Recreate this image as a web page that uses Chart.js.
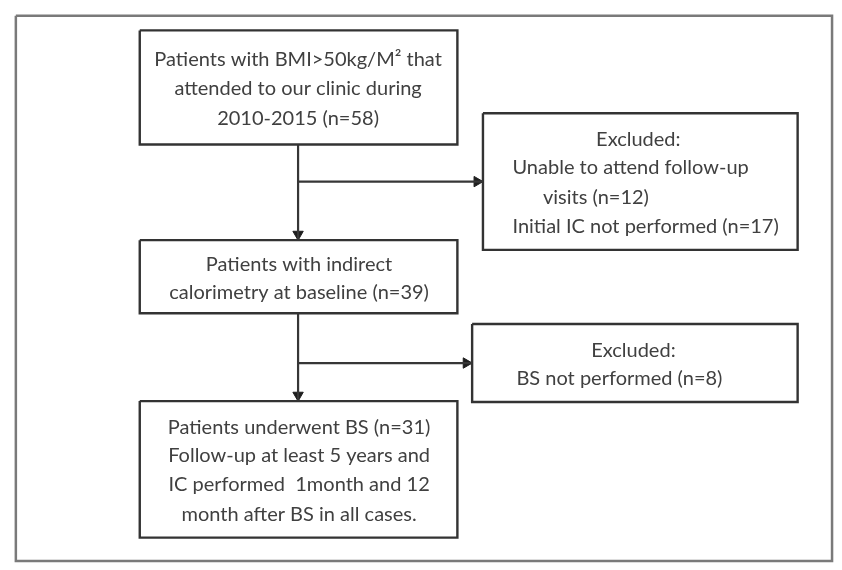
<!DOCTYPE html>
<html>
<head>
<meta charset="utf-8">
<script src="https://cdn.jsdelivr.net/npm/chart.js@4.4.0/dist/chart.umd.min.js"></script>
<style>
  html, body { margin: 0; padding: 0; background: #ffffff; }
  #wrap { width: 842px; height: 570px; }
</style>
</head>
<body>
<div id="wrap"><canvas id="c" width="842" height="570"></canvas></div>
<script>
// ---- Flowchart content (data) ----
const boxNames = ["Screened", "Excluded1", "Baseline", "Excluded2", "Underwent BS"];
const boxCounts = [58, 29, 39, 8, 31];
const boxLines = [
  ["Patients with BMI>50kg/M\u00B2 that", "attended to our clinic during", "2010-2015 (n=58)"],
  ["Excluded:", "Unable to attend follow-up", "visits (n=12)", "Initial IC not performed (n=17)"],
  ["Patients with indirect", "calorimetry at baseline (n=39)"],
  ["Excluded:", "BS not performed (n=8)"],
  ["Patients underwent BS (n=31)", "Follow-up at least 5 years and", "IC performed  1month and 12", "month after BS in all cases."]
];

// ---- Layout in diagram units (x: 0..842, y: 0..570 from top) ----
const boxLeft   = [135, 484, 135, 473, 135];
const boxRight  = [458, 804, 458, 804, 458];
const boxTop    = [24, 109, 239, 325, 404];
const boxBottom = [141, 249, 314, 405, 544];
const lineY = [
  [54, 84, 114],
  [136, 165, 195, 225],
  [264, 293],
  [352, 381],
  [431, 460, 490, 520]
];
const lineX = [
  [296, 296, 296],
  [642, 514, 545, 514],
  [297, 297],
  [637, 518],
  [297, 297, 297, 297]
];
const lineAlign = [
  ["center", "center", "center"],
  ["center", "left", "left", "left"],
  ["center", "center"],
  ["center", "left"],
  ["center", "center", "center", "center"]
];
// connectors: [x1, y1, x2, y2, direction]
const connectors = [
  [296, 141, 296, 239, "down"],
  [296, 179, 484, 179, "right"],
  [296, 314, 296, 404, "down"],
  [296, 365, 473, 365, "right"]
];
const frame = [9, 9, 839, 568];

// ---- Build datasets ----
const ARROW_R = 6;
const datasets = [];
datasets.push({
  data: [
    {x: frame[0], y: frame[1]}, {x: frame[2], y: frame[1]},
    {x: frame[2], y: frame[3]}, {x: frame[0], y: frame[3]}, {x: frame[0], y: frame[1]}
  ],
  borderColor: "#7a7a7a", borderWidth: 2.5, pointRadius: 0, showLine: true, fill: false
});
for (let i = 0; i < boxNames.length; i++) {
  const l = boxLeft[i], r = boxRight[i], t = boxTop[i], b = boxBottom[i];
  datasets.push({
    label: boxNames[i],
    data: [{x: l, y: t}, {x: r, y: t}, {x: r, y: b}, {x: l, y: b}, {x: l, y: t}],
    borderColor: "#333333", borderWidth: 2.4, pointRadius: 0, showLine: true, fill: false,
    borderJoinStyle: "miter"
  });
}
for (const c of connectors) {
  datasets.push({
    data: [{x: c[0], y: c[1]}, {x: c[2], y: c[3]}],
    borderColor: "#363636", borderWidth: 2.2, pointRadius: 0, showLine: true, fill: false
  });
}
// arrowheads as triangle points (chart-unit coords ~ pixels since scale is 1:1)
for (const c of connectors) {
  const down = c[4] === "down";
  const cx = down ? c[2] : c[2] - ARROW_R;
  const cy = down ? c[3] - ARROW_R : c[3];
  datasets.push({
    data: [{x: cx, y: cy}],
    pointStyle: "triangle", rotation: down ? 180 : 90,
    pointRadius: ARROW_R, backgroundColor: "#1e1e1e", borderColor: "#1e1e1e", borderWidth: 1,
    showLine: false
  });
}

const textPlugin = {
  id: "boxText",
  afterDatasetsDraw(chart) {
    const ctx = chart.ctx;
    const xs = chart.scales.x, ys = chart.scales.y;
    ctx.save();
    ctx.fillStyle = "#404040";
    ctx.font = "20px Lato, 'Open Sans', sans-serif";
    ctx.textBaseline = "middle";
    for (let i = 0; i < boxLines.length; i++) {
      for (let j = 0; j < boxLines[i].length; j++) {
        ctx.textAlign = lineAlign[i][j];
        ctx.fillText(boxLines[i][j], xs.getPixelForValue(lineX[i][j]), ys.getPixelForValue(lineY[i][j]));
      }
    }
    ctx.restore();
  }
};

new Chart(document.getElementById("c"), {
  type: "scatter",
  data: { datasets },
  options: {
    responsive: false,
    devicePixelRatio: 1,
    animation: false,
    layout: { padding: 0 },
    plugins: { legend: { display: false }, tooltip: { enabled: false } },
    elements: { line: { tension: 0 } },
    scales: {
      x: { type: "linear", min: 0, max: 842, display: false },
      y: { type: "linear", min: 0, max: 570, reverse: true, display: false }
    }
  },
  plugins: [textPlugin]
});
</script>
</body>
</html>
